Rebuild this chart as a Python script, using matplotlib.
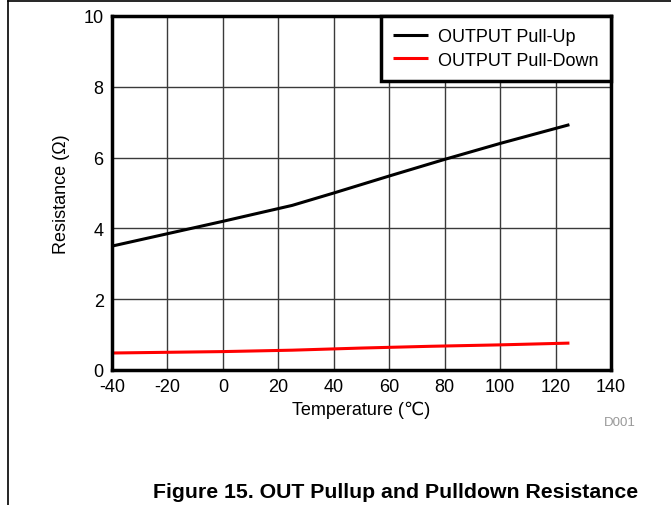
import matplotlib
matplotlib.use("Agg")
import matplotlib.pyplot as plt
from matplotlib.lines import Line2D

plt.rcParams['font.family'] = ['Liberation Sans', 'DejaVu Sans']
plt.rcParams['axes.unicode_minus'] = False

# data
temp_up = [-40, -20, 0, 25, 40, 60, 80, 100, 125]
res_up = [3.5, 3.85, 4.2, 4.65, 5.0, 5.48, 5.95, 6.4, 6.93]
temp_down = [-40, 0, 25, 50, 75, 100, 125]
res_down = [0.48, 0.52, 0.56, 0.62, 0.67, 0.71, 0.76]

xticks = [-40, -20, 0, 20, 40, 60, 80, 100, 120, 140]
yticks = [0, 2, 4, 6, 8, 10]

fig = plt.figure(figsize=(6.71, 5.06), dpi=100)
ax = fig.add_axes([112/671, 1 - 371/506, (611-112)/671, (371-17)/506])

ax.plot(temp_up, res_up, color="black", lw=2.2, label="OUTPUT Pull-Up", solid_capstyle="butt")
ax.plot(temp_down, res_down, color="#ff0000", lw=2.2, label="OUTPUT Pull-Down", solid_capstyle="butt")

ax.set_xlim(-40, 140)
ax.set_ylim(0, 10)
ax.set_xticks(xticks)
ax.set_yticks(yticks)
ax.tick_params(length=0, labelsize=13, pad=6)
ax.grid(True, color="#3a3a3a", lw=1.0)
ax.set_axisbelow(True)
for s in ax.spines.values():
    s.set_linewidth(2.5)

ax.set_xlabel("Temperature (\u2103)", fontsize=13, labelpad=4)
ax.set_ylabel("Resistance (\u03a9)", fontsize=13, labelpad=10)

leg = ax.legend(loc="upper right", fontsize=13, frameon=True, fancybox=False,
                borderaxespad=0, handlelength=1.95, handletextpad=0.55,
                labelspacing=0.35, borderpad=0.68)
leg.get_frame().set_edgecolor("black")
leg.get_frame().set_linewidth(2.5)
leg.get_frame().set_alpha(1)

fig.text(636/671, 1 - 423/506, "D001", fontsize=9.5, color="#999999", ha="right", va="center")
fig.text(396/671, 1 - 493/506, "Figure 15. OUT Pullup and Pulldown Resistance",
         fontsize=15.3, fontweight="bold", ha="center", va="center")

# page frame lines
fig.add_artist(Line2D([8/671, 1], [1 - 2/506, 1 - 2/506], color="black", lw=1.2))
fig.add_artist(Line2D([8/671, 8/671], [0, 1 - 2/506], color="black", lw=1.2))

fig.savefig("out.png", dpi=100)
